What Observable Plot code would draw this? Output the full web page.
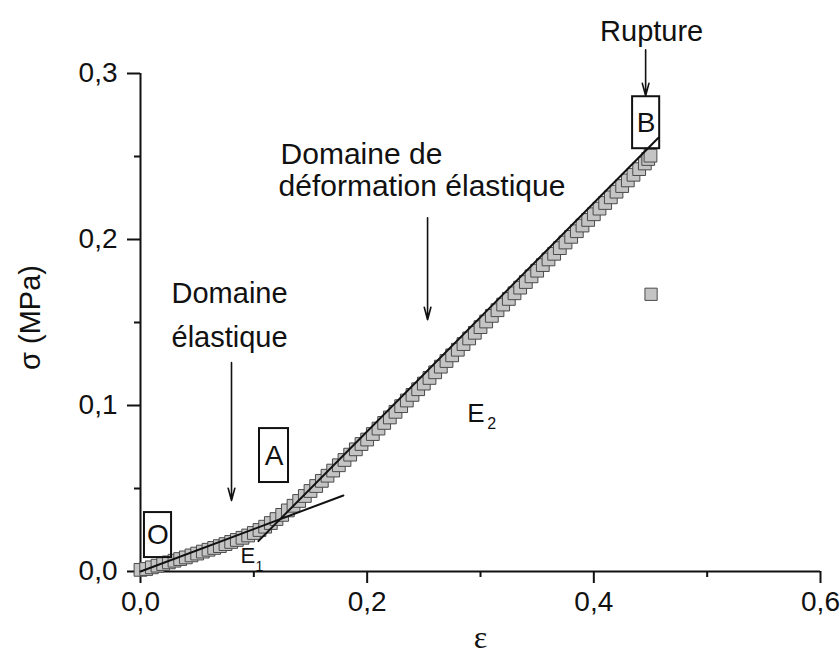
<!DOCTYPE html>
<html><head><meta charset="utf-8">
<script src="https://cdn.jsdelivr.net/npm/d3@7"></script>
<script src="https://cdn.jsdelivr.net/npm/@observablehq/plot@0.6"></script>
<style>body{margin:0;background:#fff} svg{display:block}</style>
</head><body><div id="chart"></div>
<script>
// measured points (strain ε, stress σ in MPa)
const strain = [0.000,0.005,0.010,0.015,0.020,0.025,0.030,0.035,0.040,0.045,0.050,0.055,0.060,0.065,0.070,0.075,0.080,0.085,0.090,0.095,0.100,0.105,0.110,0.115,0.120,0.125,0.130,0.135,0.140,0.145,0.150,0.155,0.160,0.165,0.170,0.175,0.180,0.185,0.190,0.195,0.200,0.205,0.210,0.215,0.220,0.225,0.230,0.235,0.240,0.245,0.250,0.255,0.260,0.265,0.270,0.275,0.280,0.285,0.290,0.295,0.300,0.305,0.310,0.315,0.320,0.325,0.330,0.335,0.340,0.345,0.350,0.355,0.360,0.365,0.370,0.375,0.380,0.385,0.390,0.395,0.400,0.405,0.410,0.415,0.420,0.425,0.430,0.435,0.440,0.445,0.448,0.450];
const stress = [0.0010,0.0015,0.0025,0.0035,0.0045,0.0055,0.0065,0.0075,0.0085,0.0097,0.0108,0.0120,0.0131,0.0142,0.0153,0.0165,0.0178,0.0190,0.0203,0.0217,0.0232,0.0250,0.0270,0.0292,0.0316,0.0341,0.0368,0.0396,0.0425,0.0455,0.0485,0.0515,0.0546,0.0577,0.0608,0.0640,0.0672,0.0704,0.0736,0.0768,0.0795,0.0828,0.0861,0.0895,0.0928,0.0962,0.0996,0.1030,0.1064,0.1098,0.1132,0.1166,0.1200,0.1234,0.1268,0.1302,0.1336,0.1370,0.1404,0.1438,0.1472,0.1506,0.1540,0.1574,0.1608,0.1642,0.1676,0.1710,0.1744,0.1778,0.1812,0.1846,0.1880,0.1914,0.1948,0.1982,0.2016,0.2050,0.2084,0.2118,0.2152,0.2186,0.2220,0.2254,0.2288,0.2322,0.2356,0.2390,0.2424,0.2458,0.2485,0.2505];
const outlierStrain = [0.4505];
const outlierStress = [0.167];
// fitted lines E1 and E2
const fitName = ["E1","E1","E2","E2"];
const fitStrain = [0.000,0.179,0.104,0.457];
const fitStress = [0.000,0.0458,0.0183,0.2613];
// tick values
const xTicks = [0,0.2,0.4,0.6];
const xMinor = [0.1,0.3,0.5];
const yTicks = [0,0.1,0.2,0.3];
const yMinor = [0.05,0.15,0.25];
// annotations
const boxLabels = ["O","A","B"];
const boxX1 = [0.0035,0.1050,0.4342];
const boxX2 = [0.0274,0.1306,0.4581];
const boxY1 = [0.0084,0.0536,0.2547];
const boxY2 = [0.0355,0.0861,0.2860];
const leftNoteText = ["Domaine de","déformation élastique"];
const leftNoteX = [0.1236,0.1218];
const leftNoteY = [0.2456,0.2264];
const midNoteText = ["Rupture","Domaine","élastique"];
const midNoteX = [0.451,0.0786,0.0786];
const midNoteY = [0.3197,0.1620,0.1350];
const arrowX = [0.4457,0.2533,0.0803];
const arrowY1 = [0.3143,0.2131,0.1258];
const arrowY2 = [0.2866,0.1517,0.0427];
const modText = ["E","1","E","2"];
const modX = [0.0883,0.1015,0.2883,0.3060];
const modY = [0.0050,0.0006,0.0899,0.0859];
const modSize = [22,14,26,16];

const fmt = d => d.toFixed(1).replace(".", ",");
const blank = () => "";
const pts = strain.map((e,i)=>({e, s: stress[i]}));
const outl = outlierStrain.map((e,i)=>({e, s: outlierStress[i]}));
const fits = fitName.map((n,i)=>({n, e: fitStrain[i], s: fitStress[i]}));
const boxes = boxLabels.map((t,i)=>({t, x1: boxX1[i], x2: boxX2[i], y1: boxY1[i], y2: boxY2[i]}));
const leftNotes = leftNoteText.map((t,i)=>({t, x: leftNoteX[i], y: leftNoteY[i]}));
const midNotes = midNoteText.map((t,i)=>({t, x: midNoteX[i], y: midNoteY[i]}));
const arrows = arrowX.map((x,i)=>({x, y1: arrowY1[i], y2: arrowY2[i]}));
const mods = modText.map((t,i)=>({t, x: modX[i], y: modY[i], f: modSize[i]}));

const chart = Plot.plot({
  width: 840, height: 654,
  marginLeft: 140, marginRight: 20, marginTop: 73, marginBottom: 83,
  style: {fontFamily: "'Liberation Sans', Arial, sans-serif", background: "white", color: "#111"},
  x: {domain: [0, 0.6]},
  y: {domain: [0, 0.3]},
  marks: [
    Plot.axisX({ticks: xTicks, tickSize: 12, tickPadding: 8, tickFormat: fmt, fontSize: 28, strokeWidth: 2, label: null}),
    Plot.axisX({ticks: xMinor, tickSize: 6, tickFormat: blank, strokeWidth: 2, label: null}),
    Plot.axisY({ticks: yTicks, tickSize: 13, tickPadding: 10, tickFormat: fmt, fontSize: 28, strokeWidth: 2, label: null}),
    Plot.axisY({ticks: yMinor, tickSize: 6, tickFormat: blank, strokeWidth: 2, label: null}),
    Plot.ruleY([0], {strokeWidth: 2}),
    Plot.ruleX([0], {strokeWidth: 2}),
    Plot.dot(pts, {x: "e", y: "s", symbol: "square", r: 7.2, fill: "#c4c4c4", stroke: "#4a4a4a", strokeWidth: 1}),
    Plot.dot(outl, {x: "e", y: "s", symbol: "square", r: 6.9, fill: "#c4c4c4", stroke: "#4a4a4a", strokeWidth: 1}),
    Plot.line(fits, {x: "e", y: "s", z: "n", stroke: "#111", strokeWidth: 2}),
    Plot.rect(boxes, {x1: "x1", x2: "x2", y1: "y1", y2: "y2", fill: "none", stroke: "#111", strokeWidth: 2}),
    Plot.text(boxes, {x: d => (d.x1 + d.x2) / 2, y: d => (d.y1 + d.y2) / 2, text: "t", fontSize: 28, textAnchor: "middle", lineAnchor: "middle"}),
    Plot.text(leftNotes, {x: "x", y: "y", text: "t", fontSize: 30, textAnchor: "start", lineAnchor: "bottom"}),
    Plot.text(midNotes, {x: "x", y: "y", text: "t", fontSize: 29, textAnchor: "middle", lineAnchor: "bottom"}),
    ...mods.map(m => Plot.text([m], {x: "x", y: "y", text: "t", fontSize: m.f, textAnchor: "start", lineAnchor: "bottom"})),
    Plot.arrow(arrows, {x1: "x", x2: "x", y1: "y1", y2: "y2", stroke: "#111", strokeWidth: 1.6, headLength: 12, headAngle: 30}),
    Plot.text(["σ (MPa)"], {frameAnchor: "left", dx: -110, dy: -5, rotate: -90, fontSize: 29, textAnchor: "middle", lineAnchor: "middle"}),
    Plot.text(["ε"], {frameAnchor: "bottom", dy: 66, fontSize: 32, fontFamily: "'Liberation Serif', 'DejaVu Serif', serif", textAnchor: "middle", lineAnchor: "middle"})
  ]
});
document.getElementById("chart").appendChild(chart);
</script>
</body></html>
